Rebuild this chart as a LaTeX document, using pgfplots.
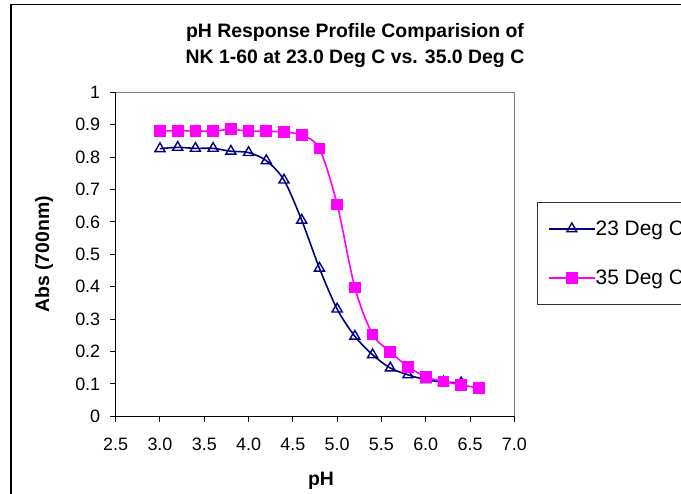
\documentclass[border=0pt]{standalone}
\usepackage{pgfplots}
\pgfplotsset{compat=1.18}
\usepackage{fontspec}
\setmainfont{Liberation Sans}
\definecolor{navyc}{RGB}{0,0,128}
\definecolor{magc}{RGB}{255,0,255}
\definecolor{boxgray}{RGB}{128,128,128}

\pgfplotstableread{
x y
3.0 0.826
3.2 0.830
3.4 0.827
3.6 0.827
3.8 0.818
4.0 0.814
4.2 0.789
4.4 0.729
4.6 0.605
4.8 0.457
5.0 0.331
5.2 0.247
5.4 0.190
5.6 0.149
5.8 0.128
6.0 0.113
6.2 0.106
6.4 0.103
}\lowT

\pgfplotstableread{
x y
3.0 0.881
3.2 0.881
3.4 0.881
3.6 0.880
3.8 0.886
4.0 0.880
4.2 0.880
4.4 0.877
4.6 0.868
4.8 0.826
5.0 0.654
5.2 0.397
5.4 0.253
5.6 0.199
5.8 0.153
6.0 0.122
6.2 0.107
6.4 0.097
6.6 0.087
}\highT

\begin{document}
\begin{tikzpicture}
\useasboundingbox (0,0) rectangle (681bp,494bp);
\draw[line width=1.2bp] (11bp,-10bp) -- (11bp,489.3bp) -- (720bp,489.3bp);
\begin{axis}[
  at={(115.7bp,77.7bp)}, anchor=south west,
  scale only axis, width=398.6bp, height=324bp,
  xmin=2.5, xmax=7, ymin=0, ymax=1,
  axis x line*=bottom, axis y line*=left,
  axis line style={line width=1.2bp, -},
  xtick={2.5,3,3.5,4,4.5,5,5.5,6,6.5,7},
  ytick={0,0.1,0.2,0.3,0.4,0.5,0.6,0.7,0.8,0.9,1},
  tick align=outside,
  major tick length=5.5bp,
  tick style={line width=1bp, black},
  /pgf/number format/assume math mode=true,
  tick label style={font=\fontsize{18}{18}\selectfont},
  xticklabel style={yshift=-13bp, /pgf/number format/.cd, fixed, fixed zerofill, precision=1},
  yticklabel style={xshift=-6.5bp},
  legend style={at={(1.056,0.503)}, anchor=west, draw=black!80, line width=0.8bp,
    font=\fontsize{21}{21}\selectfont, inner xsep=11bp, inner ysep=18bp,
    row sep=33bp, nodes={inner sep=0pt},
    /tikz/every even column/.append style={column sep=5bp}},
  legend cell align=left,
  legend image code/.code={\draw[mark repeat=2,mark phase=2,#1] plot coordinates {(0bp,0bp) (23bp,0bp) (46bp,0bp)};},
  clip=false,
]
\draw[boxgray, line width=1.2bp] (rel axis cs:0,1) -- (rel axis cs:1,1) -- (rel axis cs:1,0);
\addplot[navyc, line width=1.6bp, smooth, tension=0.5, mark=triangle, mark size=5.8bp,
  mark options={solid, fill=white, line width=1.4bp}] table[x=x,y=y] {\lowT};
\addlegendentry{23 Deg C}
\addplot[magc, line width=1.6bp, smooth, tension=0.5, mark=square*, mark size=5bp,
  mark options={solid, fill=magc, draw=magc}] table[x=x,y=y] {\highT};
\addlegendentry{35 Deg C}
\end{axis}
\node[anchor=base, font=\bfseries\fontsize{19.5}{19.5}\selectfont, inner sep=0pt] at (355bp,456bp) {pH Response Profile Comparision of};
\node[anchor=base, font=\bfseries\fontsize{19.5}{19.5}\selectfont, inner sep=0pt] at (355bp,430.7bp) {NK 1-60 at 23.0 Deg C vs. 35.0 Deg C};
\node[anchor=base, font=\bfseries\fontsize{19.5}{19.5}\selectfont, inner sep=0pt] at (321bp,9bp) {pH};
\node[rotate=90, font=\bfseries\fontsize{19.5}{19.5}\selectfont, inner sep=0pt] at (44bp,239.7bp) {Abs (700nm)};
\end{tikzpicture}
\end{document}
